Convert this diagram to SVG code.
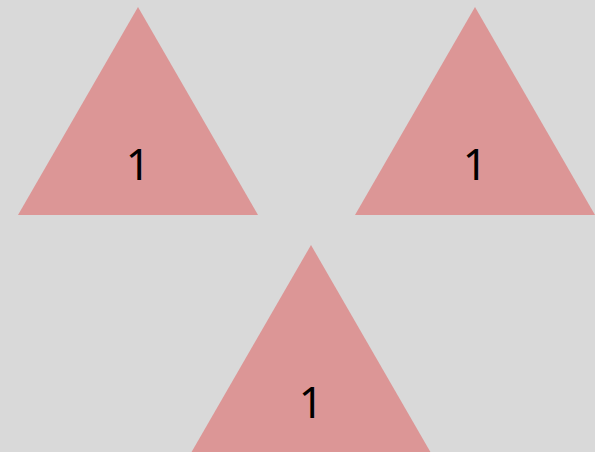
<svg xmlns="http://www.w3.org/2000/svg" width="595" height="452" viewBox="0 0 595 452">
<style>
.tri{fill:#dc9696;}
.lbl{font-family:"Noto Sans","Open Sans",sans-serif;font-size:43px;fill:#000;text-anchor:middle;}
</style>
<rect width="595" height="452" fill="#d9d9d9"/>
<g id="t1"><polygon class="tri" points="138,7 258,215 18,215"/><text class="lbl" x="138" y="180">1</text></g>
<g id="t2"><polygon class="tri" points="475,7 595,215 355,215"/><text class="lbl" x="475" y="180">1</text></g>
<g id="t3"><polygon class="tri" points="311,245 431,453 191,453"/><text class="lbl" x="311" y="418">1</text></g>
<g id="connectors"></g>
</svg>
